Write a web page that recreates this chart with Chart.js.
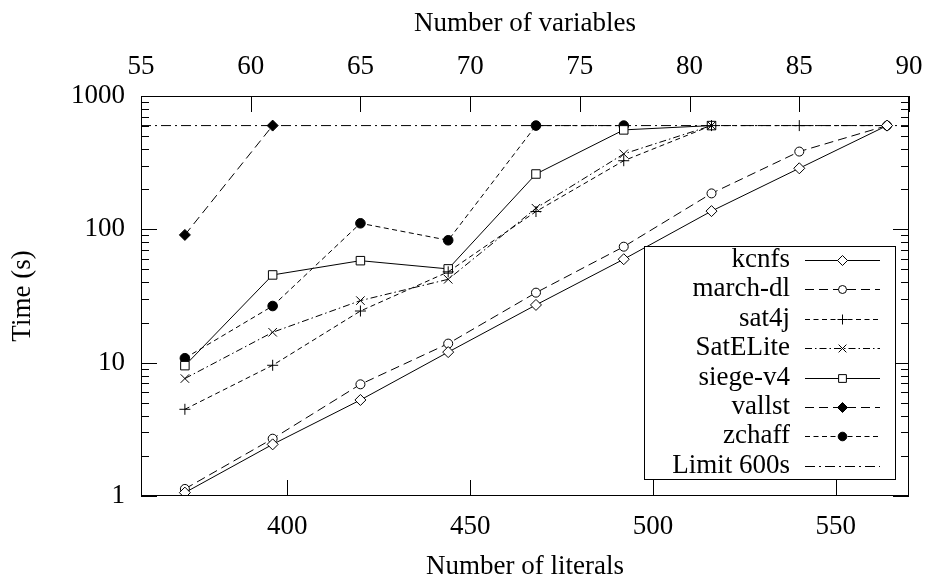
<!DOCTYPE html>
<html>
<head>
<meta charset="utf-8">
<title>Time vs number of literals</title>
<script src="https://cdn.jsdelivr.net/npm/chart.js@4.4.1/dist/chart.umd.min.js"></script>
<style>
  body { margin: 0; background: #fff; }
  #chart { display: block; }
</style>
</head>
<body>
<canvas id="chart" width="927" height="578"></canvas>
<script>
// instance sizes (x axis) and tick labels
const literals = [372, 396, 420, 444, 468, 492, 516, 540, 564];
const literalRange = [360, 570];
const literalTicks = [400, 450, 500, 550];
const variableRange = [55, 90];
const variableTicks = [55, 60, 65, 70, 75, 80, 85, 90];
const timeTicks = [1, 10, 100, 1000];
const timeLimit = 600;

// solver times in seconds (null = not reached / timed out before)
const kcnfs    = [1.06, 2.44, 5.25, 12.0, 27.1, 59.7, 137, 287, 600];
const marchDl  = [1.13, 2.69, 6.88, 13.9, 33.5, 74.1, 186, 383, 600];
const sat4j    = [4.47, 9.56, 24.4, 48.0, 136, 327, 600, 600, 600];
const satElite = [7.6, 16.9, 29.2, 42.2, 144, 368, 600, null, null];
const siegeV4  = [9.5, 45.5, 58.2, 50.5, 260, 557, 600, null, null];
const vallst   = [90.8, 600, null, null, null, null, null, null, null];
const zchaff   = [10.8, 26.6, 111, 82.8, 600, 600, null, null, null];

function points(values) {
  return literals.map((x, i) => ({ x: x, y: values[i] }));
}

function serie(label, values, dash, style, radius, fill) {
  return {
    label: label,
    data: points(values),
    borderColor: '#000',
    borderWidth: 1,
    borderDash: dash,
    pointStyle: style,
    pointRadius: radius,
    pointBorderColor: '#000',
    pointBorderWidth: 1,
    pointBackgroundColor: fill,
    fill: false,
    tension: 0
  };
}

const longDash = [9, 5];
const shortDash = [5, 3.5];
const dashDot = [7, 3, 1.5, 3];

const datasets = [
  serie('kcnfs', kcnfs, [], 'rectRot', 5.5, '#fff'),
  serie('march-dl', marchDl, longDash, 'circle', 4.5, '#fff'),
  serie('sat4j', sat4j, shortDash, 'cross', 5.5, '#fff'),
  serie('SatELite', satElite, dashDot, 'crossRot', 6, '#fff'),
  serie('siege-v4', siegeV4, [], 'rect', 6, '#fff'),
  serie('vallst', vallst, longDash, 'rectRot', 5.5, '#000'),
  serie('zchaff', zchaff, shortDash, 'circle', 4.8, '#000'),
  {
    label: 'Limit 600s',
    data: literalRange.map(x => ({ x: x, y: timeLimit })),
    borderColor: '#000',
    borderWidth: 1,
    borderDash: [10, 4, 2, 4],
    pointRadius: 0,
    fill: false
  }
];

// cadre, graduations vers l'intérieur et légende encadrée (style gnuplot)
const gnuplotLook = {
  id: 'gnuplotLook',
  afterDatasetsDraw(chart) {
    const ctx = chart.ctx;
    const a = chart.chartArea;
    const sx = chart.scales.x, sx2 = chart.scales.x2, sy = chart.scales.y;
    ctx.save();
    ctx.strokeStyle = '#000';
    ctx.lineWidth = 1;
    ctx.setLineDash([]);
    ctx.beginPath();
    literalTicks.forEach(v => {
      const px = Math.round(sx.getPixelForValue(v)) + 0.5;
      ctx.moveTo(px, a.bottom);
      ctx.lineTo(px, a.bottom - 16);
    });
    variableTicks.forEach(v => {
      const px = Math.round(sx2.getPixelForValue(v)) + 0.5;
      ctx.moveTo(px, a.top);
      ctx.lineTo(px, a.top + 16);
    });
    for (let d = 1; d < 1000; d *= 10) {
      for (let m = 1; m < 10; m++) {
        const len = m === 1 ? 16 : 8;
        const py = Math.round(sy.getPixelForValue(d * m)) + 0.5;
        ctx.moveTo(a.left, py);
        ctx.lineTo(a.left + len, py);
        ctx.moveTo(a.right, py);
        ctx.lineTo(a.right - len, py);
      }
    }
    ctx.stroke();
    ctx.strokeRect(a.left + 0.5, a.top + 0.5, a.right - a.left - 1, a.bottom - a.top - 1);

    // légende
    const boxL = a.right - 265, boxT = a.top + 150, boxR = a.right - 14, boxB = a.bottom - 17;
    ctx.fillStyle = '#fff';
    ctx.fillRect(boxL, boxT, boxR - boxL, boxB - boxT);
    ctx.strokeRect(boxL + 0.5, boxT + 0.5, boxR - boxL, boxB - boxT);
    ctx.font = "27px 'Liberation Serif', serif";
    ctx.textAlign = 'right';
    ctx.textBaseline = 'middle';
    chart.data.datasets.forEach((ds, i) => {
      const y = boxT + 14 + i * 29.4;
      ctx.fillStyle = '#000';
      ctx.fillText(ds.label, boxL + 146, y);
      const ly = Math.round(y) + 0.5;
      ctx.setLineDash(ds.borderDash || []);
      ctx.beginPath();
      ctx.moveTo(boxL + 161, ly);
      ctx.lineTo(boxL + 236, ly);
      ctx.stroke();
      ctx.setLineDash([]);
      if (ds.pointRadius > 0 && Chart.helpers && Chart.helpers.drawPoint) {
        ctx.fillStyle = ds.pointBackgroundColor;
        Chart.helpers.drawPoint(ctx, {
          pointStyle: ds.pointStyle,
          radius: ds.pointRadius - 0.5,
          rotation: 0,
          borderWidth: 1
        }, boxL + 198.5, ly);
      }
    });
    ctx.restore();
  }
};

Chart.defaults.font.family = "'Liberation Serif', serif";
Chart.defaults.font.size = 27;
Chart.defaults.color = '#000';

function noSidePadding(s, height) {
  s.height = height;
  s.paddingLeft = 0;
  s.paddingRight = 0;
}

new Chart(document.getElementById('chart'), {
  type: 'line',
  data: { datasets: datasets },
  options: {
    responsive: false,
    animation: false,
    devicePixelRatio: 1,
    layout: { padding: { top: 0, right: 18, bottom: 0, left: 0 } },
    plugins: {
      legend: { display: false },
      tooltip: { enabled: false }
    },
    scales: {
      x: {
        type: 'linear',
        position: 'bottom',
        min: literalRange[0],
        max: literalRange[1],
        afterBuildTicks: s => { s.ticks = literalTicks.map(v => ({ value: v })); },
        afterFit: s => noSidePadding(s, 82),
        grid: { display: false, drawTicks: false },
        border: { display: false },
        ticks: { padding: 15, maxRotation: 0, callback: v => String(v) },
        title: {
          display: true,
          text: 'Number of literals',
          font: { size: 27, lineHeight: 1 },
          padding: { top: 0, bottom: -2 }
        }
      },
      x2: {
        type: 'linear',
        position: 'top',
        min: variableRange[0],
        max: variableRange[1],
        afterBuildTicks: s => { s.ticks = variableTicks.map(v => ({ value: v })); },
        afterFit: s => noSidePadding(s, 96),
        grid: { display: false, drawTicks: false },
        border: { display: false },
        ticks: { padding: 13, maxRotation: 0, callback: v => String(v) },
        title: {
          display: true,
          text: 'Number of variables',
          font: { size: 27, lineHeight: 1 },
          padding: { top: 10, bottom: 0 }
        }
      },
      y: {
        type: 'logarithmic',
        position: 'left',
        min: timeTicks[0],
        max: timeTicks[timeTicks.length - 1],
        afterBuildTicks: s => { s.ticks = timeTicks.map(v => ({ value: v })); },
        afterFit: s => { s.width = 141; s.paddingTop = 0; s.paddingBottom = 0; },
        grid: { display: false, drawTicks: false },
        border: { display: false },
        ticks: { padding: 16, callback: v => String(v) },
        title: {
          display: true,
          text: 'Time (s)',
          font: { size: 27, lineHeight: 1 },
          padding: { top: 9, bottom: 0 }
        }
      }
    }
  },
  plugins: [gnuplotLook]
});
</script>
</body>
</html>
